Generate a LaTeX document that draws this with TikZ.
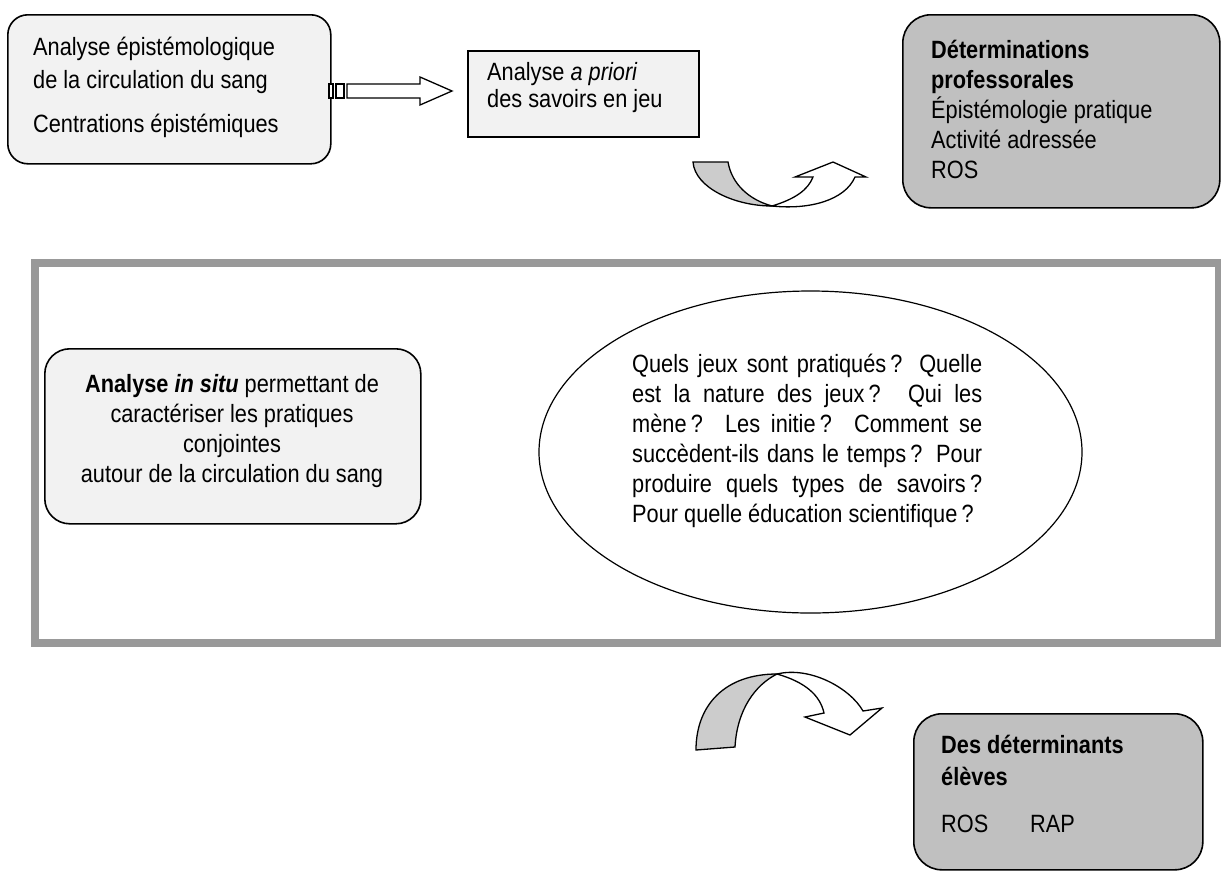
\documentclass[tikz,border=0pt]{standalone}
\usepackage{fontspec}
\setmainfont[FakeStretch=0.87]{Liberation Sans}
\usetikzlibrary{shapes.geometric}
\definecolor{lightfill}{HTML}{F2F2F2}
\definecolor{darkfill}{HTML}{C0C0C0}
\definecolor{ribbon}{HTML}{CCCCCC}
\definecolor{framegray}{HTML}{999999}
\begin{document}
\begin{tikzpicture}[x=1pt,y=-1pt,
  txt/.style={inner sep=0pt, font=\fontsize{25}{30}\selectfont, anchor=base west},
  ctxt/.style={inner sep=0pt, font=\fontsize{25}{30}\selectfont, anchor=base},
  boxbase/.style={draw, line width=1.6pt, anchor=north west, inner sep=0pt},
  lbox/.style={boxbase, fill=lightfill},
  dbox/.style={boxbase, fill=darkfill},
  shapeline/.style={draw=black, line width=1.3pt, line join=miter}]
\useasboundingbox (0,0) rectangle (1221,871);

% --- top row boxes
\node[lbox, rounded corners=20pt, minimum width=323pt, minimum height=149pt] (b1) at (7,14) {};
\node[txt] (t1a) at (33,55) {Analyse épistémologique};
\node[txt] (t1b) at (33,88) {de la circulation du sang};
\node[txt] (t1c) at (33,132) {Centrations épistémiques};

\node[lbox, minimum width=231pt, minimum height=86pt] (b2) at (467,50) {};
\node[txt] (t2a) at (487,80) {Analyse \textit{a priori}};
\node[txt] (t2b) at (487,107) {des savoirs en jeu};

\node[dbox, rounded corners=28pt, minimum width=317pt, minimum height=193pt] (b3) at (902,14) {};
\node[txt] (t3a) at (931,58) {\textbf{Déterminations}};
\node[txt] (t3b) at (931,88) {\textbf{professorales}};
\node[txt] (t3c) at (931,118) {Épistémologie pratique};
\node[txt] (t3d) at (931,148) {Activité adressée};
\node[txt] (t3e) at (931,178) {ROS};

% --- striped block arrow b1 -> b2
\filldraw[shapeline, fill=white] (329,84) rectangle (333,98);
\filldraw[shapeline, fill=white] (336,84) rectangle (344,98);
\filldraw[shapeline, fill=white] (347,84) -- (420,84) -- (420,77) -- (452,91)
  -- (420,105) -- (420,98) -- (347,98) -- cycle;

% --- U-turn arrow (top)
\filldraw[shapeline, fill=ribbon] (693,162) -- (728,162)
  .. controls (732,185) and (750,200) .. (772,206)
  .. controls (735,206) and (695,188) .. (693,162) -- cycle;
\filldraw[shapeline, fill=white] (772,206)
  .. controls (795,199) and (808,190) .. (813,177)
  -- (795,177) -- (833,162) -- (866,177) -- (855,177)
  .. controls (845,200) and (810,210) .. (772,206) -- cycle;

% --- middle frame
\node[draw=framegray, line width=8pt, anchor=north west, inner sep=0pt,
  minimum width=1184.5pt, minimum height=380pt] (frame) at (30.5,259) {};

\node[lbox, rounded corners=25pt, minimum width=376pt, minimum height=175pt] (b4) at (44,348) {};
\node[ctxt] (t4a) at (232,392) {\textbf{Analyse \textit{in situ}} permettant de};
\node[ctxt] (t4b) at (232,422) {caractériser les pratiques};
\node[ctxt] (t4c) at (232,452) {conjointes};
\node[ctxt] (t4d) at (232,482) {autour de la circulation du sang};

\node[draw, line width=1.2pt, ellipse, inner sep=0pt, minimum width=543pt, minimum height=322pt] (ell) at (810.5,452) {};
\node[inner sep=0pt, anchor=north west, text width=350pt, align=justify,
  font=\fontsize{25}{30}\selectfont] (q) at (632,351) {\strut Quels jeux sont pratiqués\,? Quelle\linebreak
  est la nature des jeux\,? Qui les\linebreak
  mène\,? Les initie\,? Comment se\linebreak
  succèdent-ils dans le temps\,? Pour\linebreak
  produire quels types de savoirs\,?\linebreak
  Pour quelle éducation scientifique\,?};

% --- curved down arrow (bottom)
\filldraw[shapeline, fill=ribbon] (696,750)
  .. controls (696,705) and (725,674) .. (777,674)
  .. controls (755,685) and (737,710) .. (735,747) -- cycle;
\filldraw[shapeline, fill=white] (777,674)
  .. controls (810,666) and (850,688) .. (863,711)
  -- (882,708) -- (850,735) -- (805,717) -- (824,713)
  .. controls (820,695) and (805,682) .. (777,674) -- cycle;

% --- bottom right box
\node[dbox, rounded corners=28pt, minimum width=289pt, minimum height=156pt] (b5) at (913,713) {};
\node[txt] (t5a) at (941,753) {\textbf{Des déterminants}};
\node[txt] (t5b) at (941,785) {\textbf{élèves}};
\node[txt] (t5c) at (941,832) {ROS};
\node[txt] (t5d) at (1030,832) {RAP};
\end{tikzpicture}
\end{document}
